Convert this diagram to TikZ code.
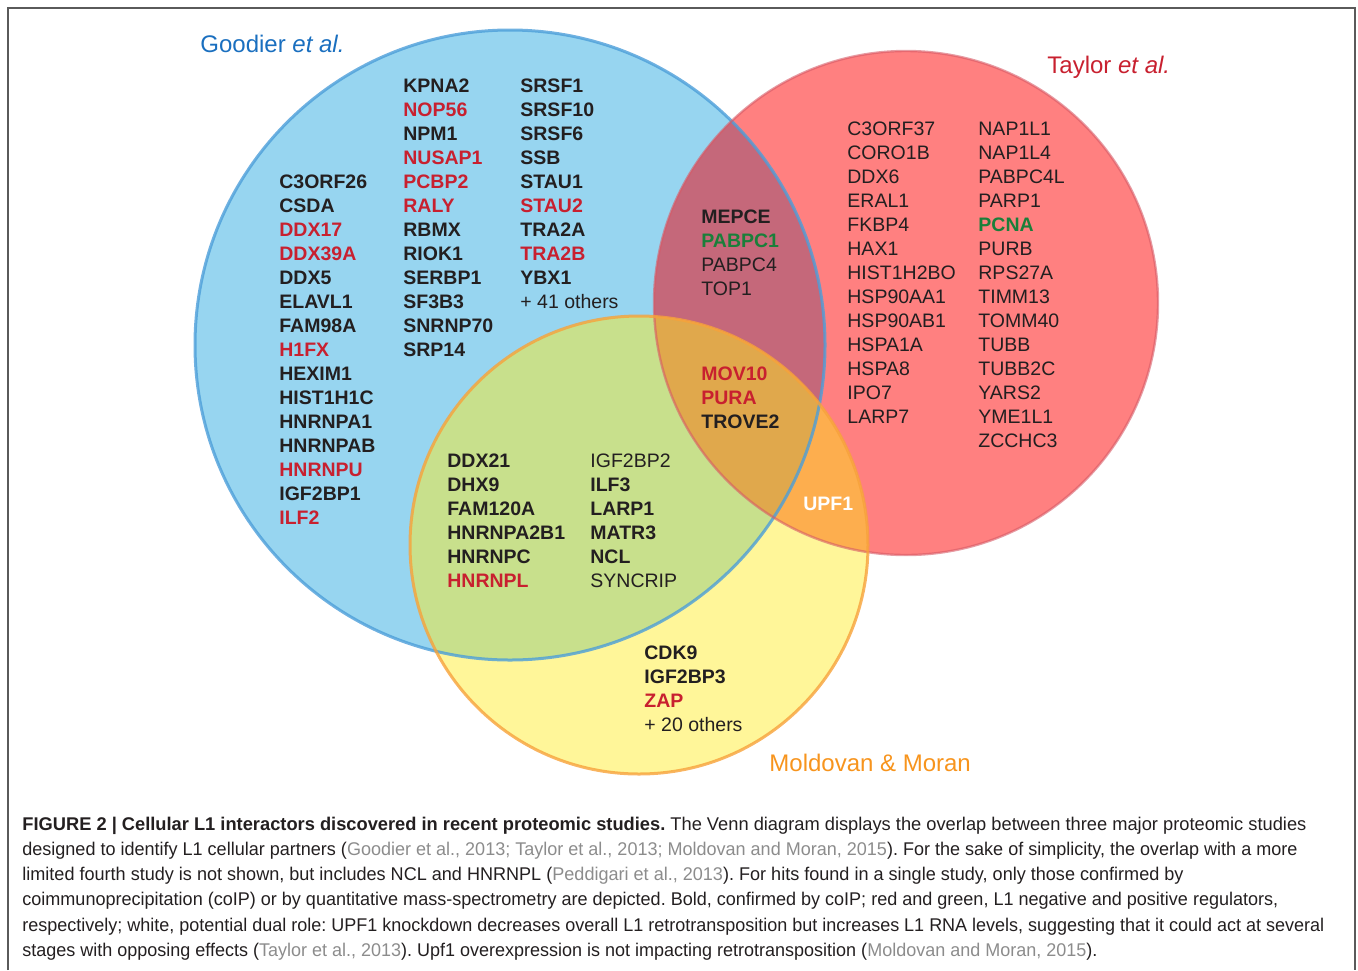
\documentclass[tikz,border=0pt]{standalone}
\usepackage{fontspec}
\setmainfont{Liberation Sans}
\usepackage{graphicx}
\frenchspacing

\definecolor{goodierfill}{HTML}{97D5F0}
\definecolor{taylorfill}{HTML}{FF8080}
\definecolor{moranfill}{HTML}{FFF699}
\definecolor{gtfill}{HTML}{C5687A}
\definecolor{gmfill}{HTML}{C8E08C}
\definecolor{tmfill}{HTML}{FDAE4E}
\definecolor{allfill}{HTML}{E0A84C}
\definecolor{goodierline}{HTML}{4C9ED9}
\definecolor{taylorline}{HTML}{D65A66}
\definecolor{moranline}{HTML}{F7A23A}
\definecolor{goodiertext}{HTML}{1A6FBF}
\definecolor{taylortext}{HTML}{C8202F}
\definecolor{morantext}{HTML}{F7941D}
\definecolor{geneblack}{HTML}{231F20}
\definecolor{genered}{HTML}{C8202F}
\definecolor{genegreen}{HTML}{1A7F3A}
\definecolor{capgray}{HTML}{8C8C8C}
\definecolor{frameline}{HTML}{5A5A5A}

\newcommand\genefont{\fontsize{9.75}{12}\selectfont}
\newcommand\refgray[1]{\textcolor{capgray}{#1}}

\begin{document}
\begin{tikzpicture}[x=0.5pt,y=-0.5pt,
  gn/.style={anchor=base west,inner sep=0pt,font=\genefont,text=geneblack},
  gb/.style={gn,font=\genefont\bfseries},
  gr/.style={gb,text=genered},
  gg/.style={gb,text=genegreen},
  gw/.style={gb,text=white},
  study/.style={anchor=base west,inner sep=0pt,font=\fontsize{12}{14}\selectfont},
  capline/.style={anchor=base west,inner sep=0pt,font=\fontsize{9.2}{10}\selectfont,text=geneblack}]
  \useasboundingbox (0,0) rectangle (1358,970);
  \draw[frameline, line width=1pt] (8,970) -- (8,8) -- (1355,8) -- (1355,970);

  \coordinate (gdc) at (510,345);
  \coordinate (tlc) at (906,303);
  \coordinate (mmc) at (639,545);

  % the three studies
  \fill[goodierfill] (gdc) circle (315);
  \fill[taylorfill] (tlc) circle (252);
  \fill[moranfill] (mmc) circle (229);
  \begin{scope}
    \clip (gdc) circle (315);
    \fill[gtfill] (tlc) circle (252);
    \fill[gmfill] (mmc) circle (229);
  \end{scope}
  \begin{scope}
    \clip (tlc) circle (252);
    \fill[tmfill] (mmc) circle (229);
    \clip (gdc) circle (315);
    \fill[allfill] (mmc) circle (229);
  \end{scope}
  \draw[goodierline, line width=1.5pt, opacity=0.8] (gdc) circle (315);
  \draw[taylorline, line width=1.2pt, opacity=0.6] (tlc) circle (252);
  \draw[moranline, line width=1.5pt, opacity=0.8] (mmc) circle (229);

  \node[study, text=goodiertext] (goodier) at (200,52) {Goodier \textit{et al.}};
  \node[study, text=taylortext] (taylor) at (1047,73) {Taylor \textit{et al.}};
  \node[study, text=morantext] (moran) at (769,771) {Moldovan \& Moran};

  % Goodier only
  \foreach \g/\s [count=\i from 0] in {C3ORF26/gb, CSDA/gb, DDX17/gr, DDX39A/gr,
      DDX5/gb, ELAVL1/gb, FAM98A/gb, H1FX/gr, HEXIM1/gb, HIST1H1C/gb, HNRNPA1/gb,
      HNRNPAB/gb, HNRNPU/gr, IGF2BP1/gb, ILF2/gr}
    \node[\s] (gd1-\i) at (279,188+24*\i) {\g};
  \foreach \g/\s [count=\i from 0] in {KPNA2/gb, NOP56/gr, NPM1/gb, NUSAP1/gr,
      PCBP2/gr, RALY/gr, RBMX/gb, RIOK1/gb, SERBP1/gb, SF3B3/gb, SNRNP70/gb, SRP14/gb}
    \node[\s] (gd2-\i) at (403,92+24*\i) {\g};
  \foreach \g/\s [count=\i from 0] in {SRSF1/gb, SRSF10/gb, SRSF6/gb, SSB/gb,
      STAU1/gb, STAU2/gr, TRA2A/gb, TRA2B/gr, YBX1/gb, + 41 others/gn}
    \node[\s] (gd3-\i) at (520,92+24*\i) {\g};

  % Taylor only
  \foreach \g [count=\i from 0] in {C3ORF37, CORO1B, DDX6, ERAL1, FKBP4, HAX1,
      HIST1H2BO, HSP90AA1, HSP90AB1, HSPA1A, HSPA8, IPO7, LARP7}
    \node[gn] (tl1-\i) at (847,135+24*\i) {\g};
  \foreach \g/\s [count=\i from 0] in {NAP1L1/gn, NAP1L4/gn, PABPC4L/gn, PARP1/gn,
      PCNA/gg, PURB/gn, RPS27A/gn, TIMM13/gn, TOMM40/gn, TUBB/gn, TUBB2C/gn,
      YARS2/gn, YME1L1/gn, ZCCHC3/gn}
    \node[\s] (tl2-\i) at (978,135+24*\i) {\g};

  % overlaps
  \foreach \g/\s [count=\i from 0] in {MEPCE/gb, PABPC1/gg, PABPC4/gn, TOP1/gn}
    \node[\s] (gt-\i) at (701,223+24*\i) {\g};
  \foreach \g/\s [count=\i from 0] in {MOV10/gr, PURA/gr, TROVE2/gb}
    \node[\s] (all-\i) at (701,380+24*\i) {\g};
  \foreach \g/\s [count=\i from 0] in {DDX21/gb, DHX9/gb, FAM120A/gb, HNRNPA2B1/gb,
      HNRNPC/gb, HNRNPL/gr}
    \node[\s] (gm1-\i) at (447,467+24*\i) {\g};
  \foreach \g/\s [count=\i from 0] in {IGF2BP2/gn, ILF3/gb, LARP1/gb, MATR3/gb,
      NCL/gb, SYNCRIP/gn}
    \node[\s] (gm2-\i) at (590,467+24*\i) {\g};
  \node[gw] (tm-0) at (803,510) {UPF1};

  % Moldovan & Moran only
  \foreach \g/\s [count=\i from 0] in {CDK9/gb, IGF2BP3/gb, ZAP/gr, + 20 others/gn}
    \node[\s] (mm-\i) at (644,659+24*\i) {\g};

  % caption
  \node[capline] (cap-1) at (22,830) {\resizebox{642pt}{\height}{\textbf{FIGURE 2 | Cellular L1 interactors discovered in recent proteomic studies.} The Venn diagram displays the overlap between three major proteomic studies}};
  \node[capline] (cap-2) at (22,855) {\resizebox{637.5pt}{\height}{designed to identify L1 cellular partners (\refgray{Goodier et al., 2013; Taylor et al., 2013; Moldovan and Moran, 2015}). For the sake of simplicity, the overlap with a more}};
  \node[capline] (cap-3) at (22,880) {\resizebox{580.5pt}{\height}{limited fourth study is not shown, but includes NCL and HNRNPL (\refgray{Peddigari et al., 2013}). For hits found in a single study, only those confirmed by}};
  \node[capline] (cap-4) at (22,905) {\resizebox{628pt}{\height}{coimmunoprecipitation (coIP) or by quantitative mass-spectrometry are depicted. Bold, confirmed by coIP; red and green, L1 negative and positive regulators,}};
  \node[capline] (cap-5) at (22,931) {\resizebox{651pt}{\height}{respectively; white, potential dual role: UPF1 knockdown decreases overall L1 retrotransposition but increases L1 RNA levels, suggesting that it could act at several}};
  \node[capline] (cap-6) at (22,956) {\resizebox{537.5pt}{\height}{stages with opposing effects (\refgray{Taylor et al., 2013}). Upf1 overexpression is not impacting retrotransposition (\refgray{Moldovan and Moran, 2015}).}};
\end{tikzpicture}
\end{document}
